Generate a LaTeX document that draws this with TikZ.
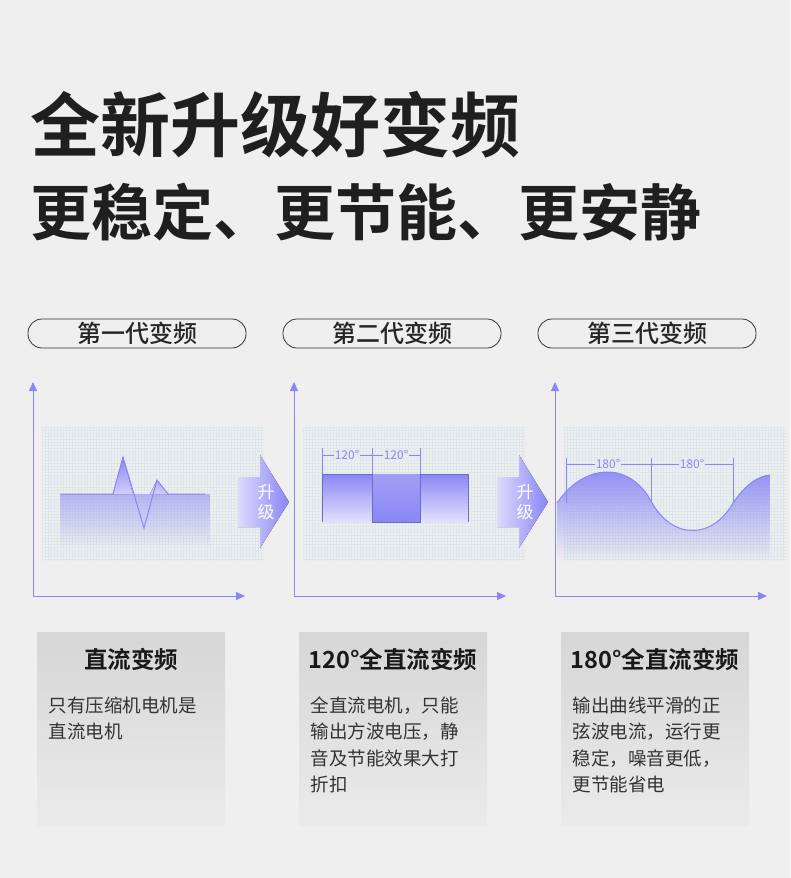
\documentclass[tikz,border=0pt]{standalone}
\usepackage{fontspec}
\setmainfont{Noto Sans CJK SC}
\newfontfamily\cjkb{Noto Sans CJK SC Bold}
\newfontfamily\cjkm{Noto Sans CJK SC Medium}
\usetikzlibrary{arrows.meta,fadings}
\definecolor{bg}{HTML}{EFEFEF}
\definecolor{pur}{HTML}{8A86F5}
\definecolor{gridc}{HTML}{DCE8EB}
\tikzset{
 axis/.style={pur,line width=0.9pt,-{Triangle[length=9pt,width=8pt]}},
 pill/.style={draw=black!80,line width=0.8pt,rounded corners=14pt},
 pilltxt/.style={font=\cjkm\fontsize{24}{27}\selectfont,text=black!85},
 dim/.style={pur,line width=0.7pt},
 dimtxt/.style={font=\fontsize{12}{13}\selectfont,text=pur,fill=bg!50!gridc,inner sep=1pt},
 btitle/.style={font=\cjkb\fontsize{23.5}{26}\selectfont,text=black!90},
 btxt/.style={font=\fontsize{18.5}{26.5}\selectfont,text=black!80,align=left,anchor=north west},
 upg/.style={left color=pur!30,right color=pur,draw=none},
}
\begin{document}
\begin{tikzpicture}[x=1pt,y=-1pt]
\fill[bg] (0,0) rectangle (790,878);
\useasboundingbox (0,0) rectangle (790,878);
\node[font=\cjkb\fontsize{70}{72}\selectfont,anchor=west,text=black!88,inner sep=0] (t1) at (30,125) {全新升级好变频};
\node[font=\cjkb\fontsize{61}{64}\selectfont,anchor=west,text=black!88,inner sep=0] (t2) at (30,212) {更稳定、更节能、更安静};
% pills
\foreach \x/\t/\n in {28/第一代变频/p1,283/第二代变频/p2,538/第三代变频/p3}{
 \draw[pill] (\x,319) rectangle ++(218,29);
 \node[pilltxt] (\n) at (\x+109,333.5) {\t};
}
% grids
\foreach \x in {42,303,564}{
 \begin{scope}
 \clip (\x,427) rectangle ++(222,134);
 \foreach \i in {0,3,...,222} \draw[gridc,line width=0.3pt] (\x+\i,427) -- ++(0,134);
 \foreach \j in {0,3,...,134} \draw[gridc,line width=0.3pt] (\x,427+\j) -- ++(222,0);
 \end{scope}
}
% axes
\foreach \x in {33,294,555}{
 \draw[axis] (\x,596) -- (\x,382);
 \draw[axis] (\x,596) -- (\x+212,596);
}
% pulse
\fill[pur,opacity=0.55,path fading=south] (60,494) rectangle (210,548);
\fill[top color=pur,bottom color=pur!40] (113,494) -- (123,457) -- (133,494) -- cycle;
\fill[top color=pur!70,bottom color=pur!40] (150,494) -- (157,480) -- (168,494) -- cycle;
\draw[pur,line width=1pt] (60,494) -- (113,494) -- (123,457) -- (144,528) -- (157,480) -- (168,494) -- (205,494);
% square
\fill[top color=pur,bottom color=pur!25] (322,474) rectangle (372,522);
\fill[top color=pur!80,bottom color=pur] (372,474) rectangle (420,522);
\fill[top color=pur,bottom color=pur!25] (420,474) rectangle (468,522);
\draw[pur!80!black,line width=1pt] (322,522) -- (322,474) -- (372,474) -- (372,522) -- (420,522) -- (420,474) -- (468,474) -- (468,522);
\draw[dim] (322,448) -- (322,474) (372,448) -- (372,474) (420,448) -- (420,474);
\draw[dim] (322,455) -- (420,455);
\node[dimtxt] (d1) at (347,455) {120°};
\node[dimtxt] (d2) at (396,455) {120°};
% sine
\fill[pur,path fading=south] (557,503) .. controls (585,462) and (630,462) .. (651,501) .. controls (672,540) and (712,540) .. (733,503) .. controls (745,485) and (758,476) .. (770,475) -- (770,560) -- (557,560) -- cycle;
\draw[pur,line width=1pt] (557,503) .. controls (585,462) and (630,462) .. (651,501) .. controls (672,540) and (712,540) .. (733,503) .. controls (745,485) and (758,476) .. (770,475);
\draw[dim] (566,458) -- (566,503) (651,458) -- (651,501) (733,458) -- (733,503);
\draw[dim] (566,464) -- (733,464);
\node[dimtxt] (d3) at (608,464) {180°};
\node[dimtxt] (d4) at (692,464) {180°};
% upgrade arrows
\foreach \x/\n in {238/u1,497/u2}{
 \fill[upg] (\x,477) -- (\x+22,477) -- (\x+22,455) -- (\x+51,502) -- (\x+22,548) -- (\x+22,527) -- (\x,527) -- cycle;
 \node[font=\fontsize{17}{20}\selectfont,text=white,align=center] (\n) at (\x+28,502) {升\\级};
}
% boxes
\foreach \x/\ti/\bo/\n in {37/直流变频/{只有压缩机电机是\\直流电机}/b1,
 299/120°全直流变频/{全直流电机，只能\\输出方波电压，静\\音及节能效果大打\\折扣}/b2,
 561/180°全直流变频/{输出曲线平滑的正\\弦波电流，运行更\\稳定，噪音更低，\\更节能省电}/b3}{
 \fill[top color=black!16,bottom color=black!8] (\x,632) rectangle ++(188,194);
 \node[btitle] (\n t) at (\x+94,659) {\ti};
 \node[btxt] (\n b) at (\x+8,693) {\bo};
}
\end{tikzpicture}
\end{document}
